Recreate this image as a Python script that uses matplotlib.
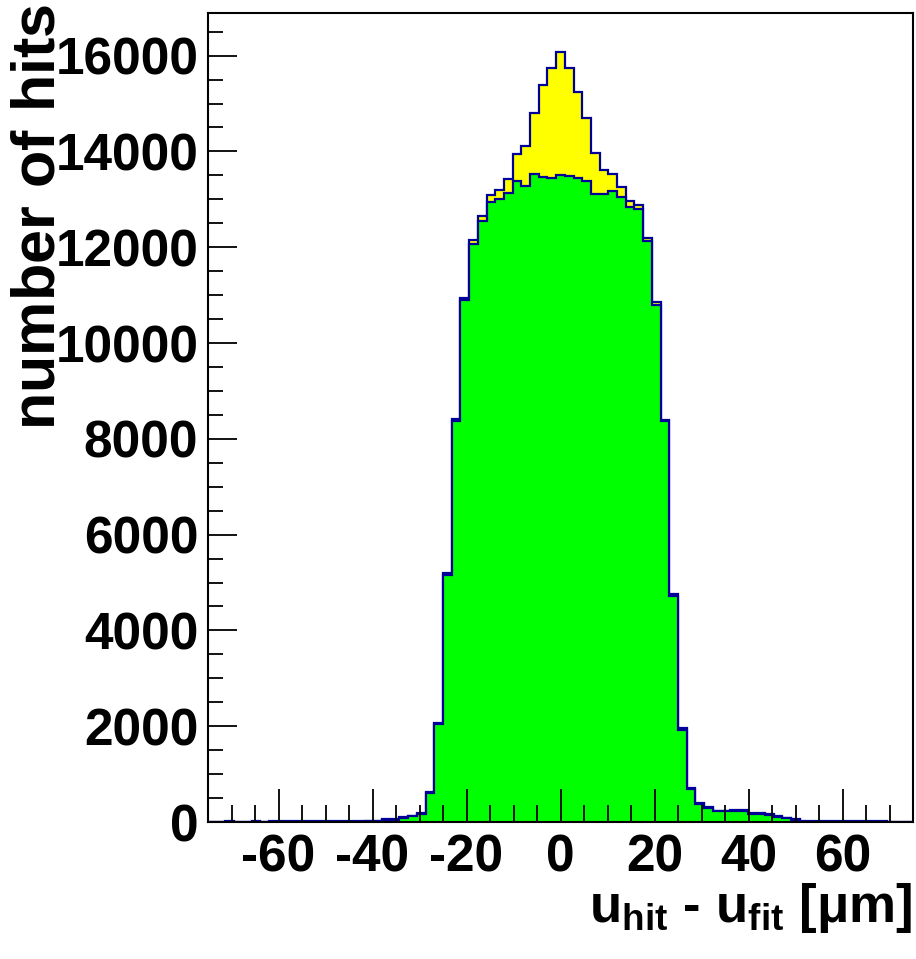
import numpy as np
import matplotlib
matplotlib.use('Agg')
import matplotlib.pyplot as plt
from matplotlib.ticker import MultipleLocator

# residual histogram: 81 bins from -75 to 75 um
x_lo, x_hi, nbins = -75.0, 75.0, 81

# all hits (yellow)
total = [
    0, 0, 20, 0, 0, 20, 0, 25, 25, 25,
    25, 25, 25, 25, 25, 25, 25, 25, 30, 30,
    60, 60, 105, 130, 185, 620, 2070, 5190, 8420, 10940,
    12145, 12645, 13083, 13198, 13434, 13944, 14119, 14807, 15391, 15739,
    16086, 15746, 15238, 14703, 13963, 13618, 13528, 13267, 12957, 12881,
    12194, 10851, 8398, 4770, 1960, 710, 400, 320, 236, 240,
    250, 250, 194, 194, 175, 128, 93, 56, 20, 20,
    20, 20, 20, 20, 20, 20, 20, 20, 0, 0,
    0]

# subset (green)
subset = [
    0, 0, 0, 0, 0, 0, 0, 10, 10, 10,
    10, 10, 10, 10, 10, 10, 10, 10, 15, 15,
    40, 45, 90, 115, 170, 600, 2040, 5150, 8380, 10890,
    12070, 12538, 12951, 13000, 13124, 13374, 13278, 13524, 13476, 13451,
    13500, 13479, 13448, 13389, 13104, 13104, 13166, 13058, 12832, 12798,
    12123, 10803, 8363, 4720, 1920, 690, 385, 300, 220, 220,
    230, 225, 175, 175, 155, 110, 75, 40, 0, 0,
    0, 0, 0, 0, 0, 0, 0, 0, 0, 0,
    0]

plt.rcParams['font.family'] = ['Liberation Sans', 'DejaVu Sans']
plt.rcParams['font.weight'] = 'bold'
plt.rcParams['axes.unicode_minus'] = False
plt.rcParams['mathtext.fontset'] = 'custom'
plt.rcParams['mathtext.rm'] = 'Liberation Sans:bold'
plt.rcParams['mathtext.it'] = 'Liberation Sans:bold'
plt.rcParams['mathtext.bf'] = 'Liberation Sans:bold'
plt.rcParams['mathtext.sf'] = 'Liberation Sans:bold'

edges = np.linspace(x_lo, x_hi, nbins + 1)
line_col = '#000099'

fig = plt.figure(figsize=(9.16, 9.59), dpi=100)
ax = fig.add_axes([208/916, 137/959, 705/916, 809/959])

ax.stairs(total, edges, fill=True, color='#ffff00')
ax.stairs(total, edges, color=line_col, lw=1.6)
ax.stairs(subset, edges, fill=True, color='#00ff00')
ax.stairs(subset, edges, color=line_col, lw=1.6)

ax.set_xlim(x_lo, x_hi)
ax.set_ylim(0, 1.05*max(total))

ax.xaxis.set_major_locator(MultipleLocator(20))
ax.xaxis.set_minor_locator(MultipleLocator(5))
ax.yaxis.set_major_locator(MultipleLocator(2000))
ax.yaxis.set_minor_locator(MultipleLocator(500))
ax.tick_params(which='both', direction='in', top=False, right=False, width=1.3, color='black')
ax.tick_params(which='major', axis='x', length=24, pad=8, labelsize=37)
ax.tick_params(which='minor', axis='x', length=12)
ax.tick_params(which='major', axis='y', length=21, pad=7, labelsize=37)
ax.tick_params(which='minor', axis='y', length=11)
for lab in ax.get_xticklabels() + ax.get_yticklabels():
    lab.set_fontweight('bold')
for s in ax.spines.values():
    s.set_linewidth(1.5)

# mathtext so the box hugs the ink (no descenders in this label)
fig.text(39/916, 1 - 4/959, r'$\mathrm{number\ of\ hits}$', rotation=90, ha='center', va='top',
         fontsize=44, fontweight='bold')
fig.text(912/916, 1 - 922/959, r'$\mathrm{u_{hit}}$ - $\mathrm{u_{fit}}$ [μm]', ha='right', va='baseline',
         fontsize=38, fontweight='bold')

plt.savefig('out.png', dpi=100)
